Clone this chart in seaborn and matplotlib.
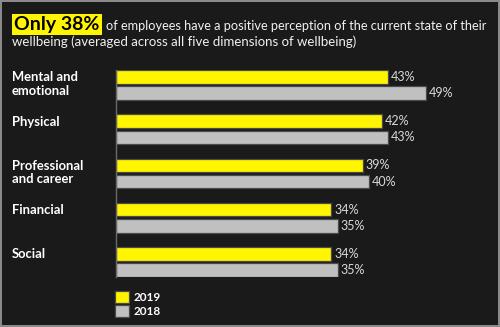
import matplotlib
matplotlib.use("Agg")
import matplotlib.pyplot as plt
import matplotlib.transforms as mtrans
import seaborn as sns
import pandas as pd

categories = ["Mental and\nemotional", "Physical", "Professional\nand career", "Financial", "Social"]
years = ["2019", "2018"]
values_2019 = [43, 42, 39, 34, 34]
values_2018 = [49, 43, 40, 35, 35]
title_highlight = "Only 38%"
title_line1 = "of employees have a positive perception of the current state of their"
title_line2 = "wellbeing (averaged across all five dimensions of wellbeing)"

BG = "#1a1a1a"
YELLOW = "#fff500"
GRAY = "#c0c0c0"

sns.set_theme(style="dark")
plt.rcParams["font.family"] = ["Lato", "DejaVu Sans"]

df = pd.DataFrame({
    "category": categories * 2,
    "year": [years[0]] * len(categories) + [years[1]] * len(categories),
    "value": values_2019 + values_2018,
})

W, H = 500, 327
fig = plt.figure(figsize=(W / 100, H / 100), dpi=100)
fig.patch.set_facecolor(BG)
fig.patch.set_edgecolor("#8a8a8a")
fig.patch.set_linewidth(1.5)

ax_left = 116 / W
ax_right = (116 + 6.33 * 55) / W
ax_top = 70 / H
ax_bot = 277 / H
ax = fig.add_axes([ax_left, 1 - ax_bot, ax_right - ax_left, ax_bot - ax_top])
ax.set_facecolor(BG)

sns.barplot(data=df, y="category", x="value", hue="year", orient="h",
            palette=[YELLOW, GRAY], saturation=1, width=0.73, gap=0.16,
            edgecolor="#4a4a4a", linewidth=0.9, ax=ax)

ax.set_xlim(0, 55)
ax.set_ylim(4.34, -0.34)
ax.set_xlabel("")
ax.set_ylabel("")
ax.set_xticks([])
ax.set_yticks([])
for s in ["top", "right", "bottom"]:
    ax.spines[s].set_visible(False)
ax.spines["left"].set_visible(True)
ax.spines["left"].set_color("#6a6a6a")
ax.spines["left"].set_linewidth(1.0)

for cont in ax.containers:
    ax.bar_label(cont, fmt="{:.0f}%", padding=2, color="#d8d8d8", fontsize=9)

# category labels
trans = mtrans.blended_transform_factory(fig.transFigure, ax.transData)
for i, cat in enumerate(categories):
    ax.text(12 / W, i - 0.31, cat, transform=trans, ha="left", va="top",
            color="white", fontsize=9.4, fontweight="bold", linespacing=1.12)

# legend
handles, labels = ax.get_legend_handles_labels()
ax.legend(handles, labels, loc="upper left",
          bbox_to_anchor=(115 / W, 1 - 291 / H), bbox_transform=fig.transFigure,
          frameon=False, labelcolor="white", prop={"weight": "bold", "size": 8.5},
          handlelength=1.2, handleheight=1.2, handletextpad=0.35,
          labelspacing=0.12, borderpad=0, borderaxespad=0)

# title
t1 = fig.text(14 / W, 1 - 30 / H, title_highlight, color="black", fontsize=14,
              fontweight="bold", va="baseline", ha="left",
              bbox=dict(facecolor=YELLOW, edgecolor="none",
                        boxstyle="square,pad=0.12"))
fig.canvas.draw()
r = fig.canvas.get_renderer()
bb = t1.get_bbox_patch().get_window_extent(r)
x_next = bb.x1 / fig.bbox.width + 4 / W
t2 = fig.text(x_next, 1 - 30 / H, title_line1, color="#f0f0f0", fontsize=9.5,
              va="baseline", ha="left")
fig.canvas.draw()
w2 = t2.get_window_extent(r).width
t2.set_fontsize(9.5 * (490 - x_next * W) / w2)
fig.text(12 / W, 1 - 46 / H, title_line2, color="#f0f0f0", fontsize=9.5,
         va="baseline", ha="left")

fig.savefig("out.png", dpi=100, facecolor=BG, edgecolor=fig.patch.get_edgecolor())
